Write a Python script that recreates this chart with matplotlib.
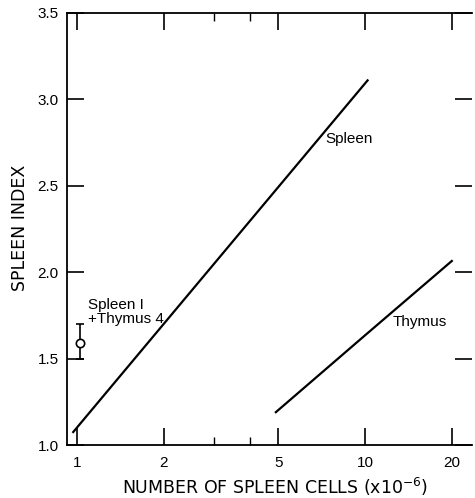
import matplotlib
matplotlib.use("Agg")
import matplotlib.pyplot as plt
from matplotlib.ticker import FixedLocator, NullFormatter

plt.rcParams['font.family'] = ['Liberation Sans', 'DejaVu Sans']

spleen_x = [0.97, 10.2]
spleen_y = [1.075, 3.11]
thymus_x = [4.9, 10, 20]
thymus_y = [1.19, 1.635, 2.065]
mix_x = [1.02]
mix_y = [1.59]
mix_err_lo = [0.09]
mix_err_hi = [0.11]

xticks = [1, 2, 5, 10, 20]
xtick_labels = ['1', '2', '5', '10', '20']
xminor = [3, 4]
yticks = [1.0, 1.5, 2.0, 2.5, 3.0, 3.5]
ytick_labels = ['1.0', '1.5', '2.0', '2.5', '3.0', '3.5']

fig = plt.figure(figsize=(4.75, 4.98), dpi=100)
ax = fig.add_axes([67/475, 1 - 445/498, (472 - 67)/475, (445 - 13)/498])

ax.plot(spleen_x, spleen_y, color='black', lw=1.6)
ax.plot(thymus_x, thymus_y, color='black', lw=1.6)
ax.errorbar(mix_x, mix_y, yerr=[mix_err_lo, mix_err_hi], fmt='o', mfc='white',
            mec='black', ecolor='black', color='black', ms=6, capsize=3, lw=1.2, mew=1.2)

ax.set_xscale('log')
ax.set_xlim(0.923, 23.5)
ax.set_ylim(1.0, 3.5)
ax.xaxis.set_major_locator(FixedLocator(xticks))
ax.set_xticklabels(xtick_labels)
ax.xaxis.set_minor_locator(FixedLocator(xminor))
ax.xaxis.set_minor_formatter(NullFormatter())
ax.set_yticks(yticks)
ax.set_yticklabels(ytick_labels)

ax.spines['right'].set_visible(False)
for s in ['left', 'top', 'bottom']:
    ax.spines[s].set_linewidth(1.3)

ax.tick_params(axis='both', which='major', direction='in', length=12, width=1.2,
               labelsize=11, top=True, right=True)
ax.tick_params(axis='x', which='major', pad=8)
ax.tick_params(axis='y', which='major', pad=6)
ax.tick_params(axis='both', which='minor', direction='in', length=6, width=1.0,
               top=True, right=True)

ax.text(7.3, 2.77, 'Spleen', fontsize=11, va='center', ha='left')
ax.text(1.09, 1.77, 'Spleen I\n+Thymus 4', fontsize=11, va='center', ha='left', linespacing=1.0)
ax.text(12.5, 1.71, 'Thymus', fontsize=11, va='center', ha='left')

fig.text(20/475, 1 - 228/498, 'SPLEEN INDEX', rotation=90, fontsize=12.5,
         family='DejaVu Sans', ha='center', va='center')
fig.text(275/475, 1 - 487/498, 'NUMBER OF SPLEEN CELLS (x10$^{-6}$)', fontsize=12.5,
         family='DejaVu Sans', ha='center', va='center')

fig.savefig('out.png', dpi=100)
